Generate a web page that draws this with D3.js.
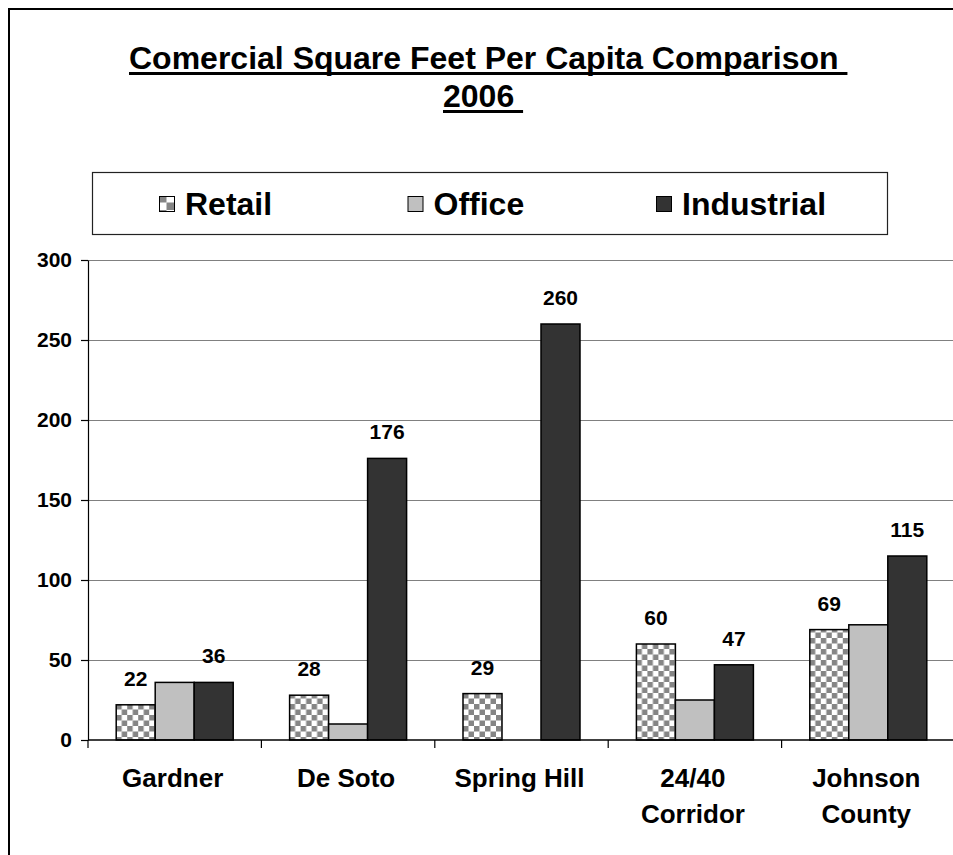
<!DOCTYPE html>
<html>
<head>
<meta charset="utf-8">
<script src="https://cdn.jsdelivr.net/npm/d3@7"></script>
<style>
  html, body { margin: 0; padding: 0; background: #fff; }
  svg { display: block; }
  text { font-family: "Liberation Sans", Arial, sans-serif; font-weight: bold; fill: #000; }
</style>
</head>
<body>
<svg id="chart"></svg>
<script>
// chart values
const categories = ["Gardner", "De Soto", "Spring Hill", "24/40 Corridor", "Johnson County"];
const categoryLines = [["Gardner"], ["De Soto"], ["Spring Hill"], ["24/40", "Corridor"], ["Johnson", "County"]];
const seriesNames = ["Retail", "Office", "Industrial"];
const retail = [22, 28, 29, 60, 69];
const office = [36, 10, 0, 25, 72];
const industrial = [36, 176, 260, 47, 115];
const yTicks = [0, 50, 100, 150, 200, 250, 300];
const labelledSeries = ["Retail", "Industrial"];

const W = 953, H = 855;
const margin = { top: 260, left: 88, bottom: 115 };
const plotRight = 955;

const svg = d3.select("#chart").attr("width", W).attr("height", H);

// checker patterns for retail (bars and the bigger legend swatch)
const defs = svg.append("defs");
function checker(id, cell) {
    const p = defs.append("pattern")
        .attr("id", id)
        .attr("patternUnits", "userSpaceOnUse")
        .attr("width", cell * 2).attr("height", cell * 2);
    p.append("rect").attr("width", cell * 2).attr("height", cell * 2).attr("fill", "#fff");
    p.append("rect").attr("width", cell).attr("height", cell).attr("fill", "#858585");
    p.append("rect").attr("x", cell).attr("y", cell).attr("width", cell).attr("height", cell).attr("fill", "#858585");
}
checker("checker", 5.5);
checker("checkerBig", 7.5);

const fills = { Retail: "url(#checker)", Office: "#c0c0c0", Industrial: "#333333" };
const legendFills = { Retail: "url(#checkerBig)", Office: "#c0c0c0", Industrial: "#333333" };

// outer chart border
svg.append("rect")
    .attr("x", 9).attr("y", 9)
    .attr("width", W + 20).attr("height", H + 20)
    .attr("fill", "none").attr("stroke", "#000").attr("stroke-width", 2);

// title
const title = svg.append("g");
function underlined(str, x, y, size) {
    const t = title.append("text")
        .attr("x", x).attr("y", y)
        .attr("font-size", size)
        .style("white-space", "pre")
        .text(str);
    const len = t.node().getComputedTextLength();
    title.append("rect")
        .attr("x", x).attr("y", y + 3)
        .attr("width", len).attr("height", 3)
        .attr("fill", "#000");
}
underlined("Comercial Square Feet Per Capita Comparison ", 129, 69, 32);
underlined("2006 ", 443, 107, 32);

// legend
const legend = svg.append("g");
legend.append("rect")
    .attr("x", 92.5).attr("y", 172.5)
    .attr("width", 795).attr("height", 62)
    .attr("fill", "#fff").attr("stroke", "#222").attr("stroke-width", 1.2);

const legendX = d3.scalePoint().domain(seriesNames).range([159, 656]);
const items = legend.selectAll("g.item").data(seriesNames).enter()
    .append("g").attr("class", "item")
    .attr("transform", d => "translate(" + legendX(d) + ",0)");
items.append("rect")
    .attr("x", 0.5).attr("y", 196.5)
    .attr("width", 15).attr("height", 15)
    .attr("fill", d => legendFills[d]).attr("stroke", "#000").attr("stroke-width", 1);
items.append("text")
    .attr("x", 26).attr("y", 215)
    .attr("font-size", 32)
    .text(d => d);

// scales
const x0 = d3.scaleBand()
    .domain(categories)
    .range([margin.left, plotRight])
    .paddingInner(0).paddingOuter(0);

const groupW = 117;
const x1 = d3.scaleBand()
    .domain(seriesNames)
    .range([0, groupW]);

const y = d3.scaleLinear()
    .domain([0, 300])
    .range([H - margin.bottom, margin.top]);

// gridlines
svg.append("g")
    .attr("transform", "translate(" + margin.left + ",0)")
    .call(d3.axisLeft(y).tickValues(yTicks.slice(1)).tickSize(-(plotRight - margin.left)).tickFormat(""))
    .call(g => g.select(".domain").remove())
    .call(g => g.selectAll("line").attr("stroke", "#808080").attr("stroke-width", 1.2));

// bars
const rows = categories.map((c, i) => ({
    cat: c,
    values: [
        { key: "Retail", value: retail[i] },
        { key: "Office", value: office[i] },
        { key: "Industrial", value: industrial[i] }
    ]
}));

const groups = svg.selectAll("g.group").data(rows).enter()
    .append("g").attr("class", "group")
    .attr("transform", d => "translate(" + (x0(d.cat) + (x0.bandwidth() - groupW) / 2) + ",0)");

groups.selectAll("rect")
    .data(d => d.values.filter(v => v.value > 0))
    .enter().append("rect")
    .attr("x", d => x1(d.key))
    .attr("y", d => y(d.value))
    .attr("width", x1.bandwidth())
    .attr("height", d => y(0) - y(d.value))
    .attr("fill", d => fills[d.key])
    .attr("stroke", "#000")
    .attr("stroke-width", 1.5);

groups.selectAll("text.val")
    .data(d => d.values.filter(v => labelledSeries.includes(v.key)))
    .enter().append("text")
    .attr("class", "val")
    .attr("x", d => x1(d.key) + x1.bandwidth() / 2)
    .attr("y", d => y(d.value) - 19)
    .attr("text-anchor", "middle")
    .attr("font-size", 21)
    .text(d => d.value);

// y axis
const yAxis = svg.append("g")
    .attr("transform", "translate(" + margin.left + ",0)")
    .call(d3.axisLeft(y).tickValues(yTicks).tickSize(7).tickPadding(9).tickSizeOuter(0));
yAxis.select(".domain").attr("stroke", "#000").attr("stroke-width", 1.2);
yAxis.selectAll("line").attr("stroke", "#000").attr("stroke-width", 1.2);
yAxis.selectAll("text")
    .attr("font-size", 21)
    .attr("font-family", "Liberation Sans, Arial, sans-serif")
    .attr("font-weight", "bold")
    .attr("fill", "#000");

// x axis line and category boundary ticks
const bounds = categories.map(c => x0(c)).concat([x0.range()[1]]);
const xAxis = svg.append("g");
xAxis.append("line")
    .attr("x1", margin.left).attr("x2", plotRight)
    .attr("y1", y(0)).attr("y2", y(0))
    .attr("stroke", "#000").attr("stroke-width", 1.5);
xAxis.selectAll("line.tick").data(bounds).enter().append("line")
    .attr("class", "tick")
    .attr("x1", d => d).attr("x2", d => d)
    .attr("y1", y(0)).attr("y2", y(0) + 8)
    .attr("stroke", "#000").attr("stroke-width", 1.2);

const catLabels = xAxis.selectAll("text.cat").data(categories).enter()
    .append("text").attr("class", "cat")
    .attr("text-anchor", "middle")
    .attr("font-size", 26)
    .attr("y", 787);
catLabels.selectAll("tspan")
    .data((d, i) => categoryLines[i].map(line => ({ line, c: d })))
    .enter().append("tspan")
    .attr("x", d => x0(d.c) + x0.bandwidth() / 2 - 2)
    .attr("dy", (d, j) => j === 0 ? 0 : 36)
    .text(d => d.line);
</script>
</body>
</html>
